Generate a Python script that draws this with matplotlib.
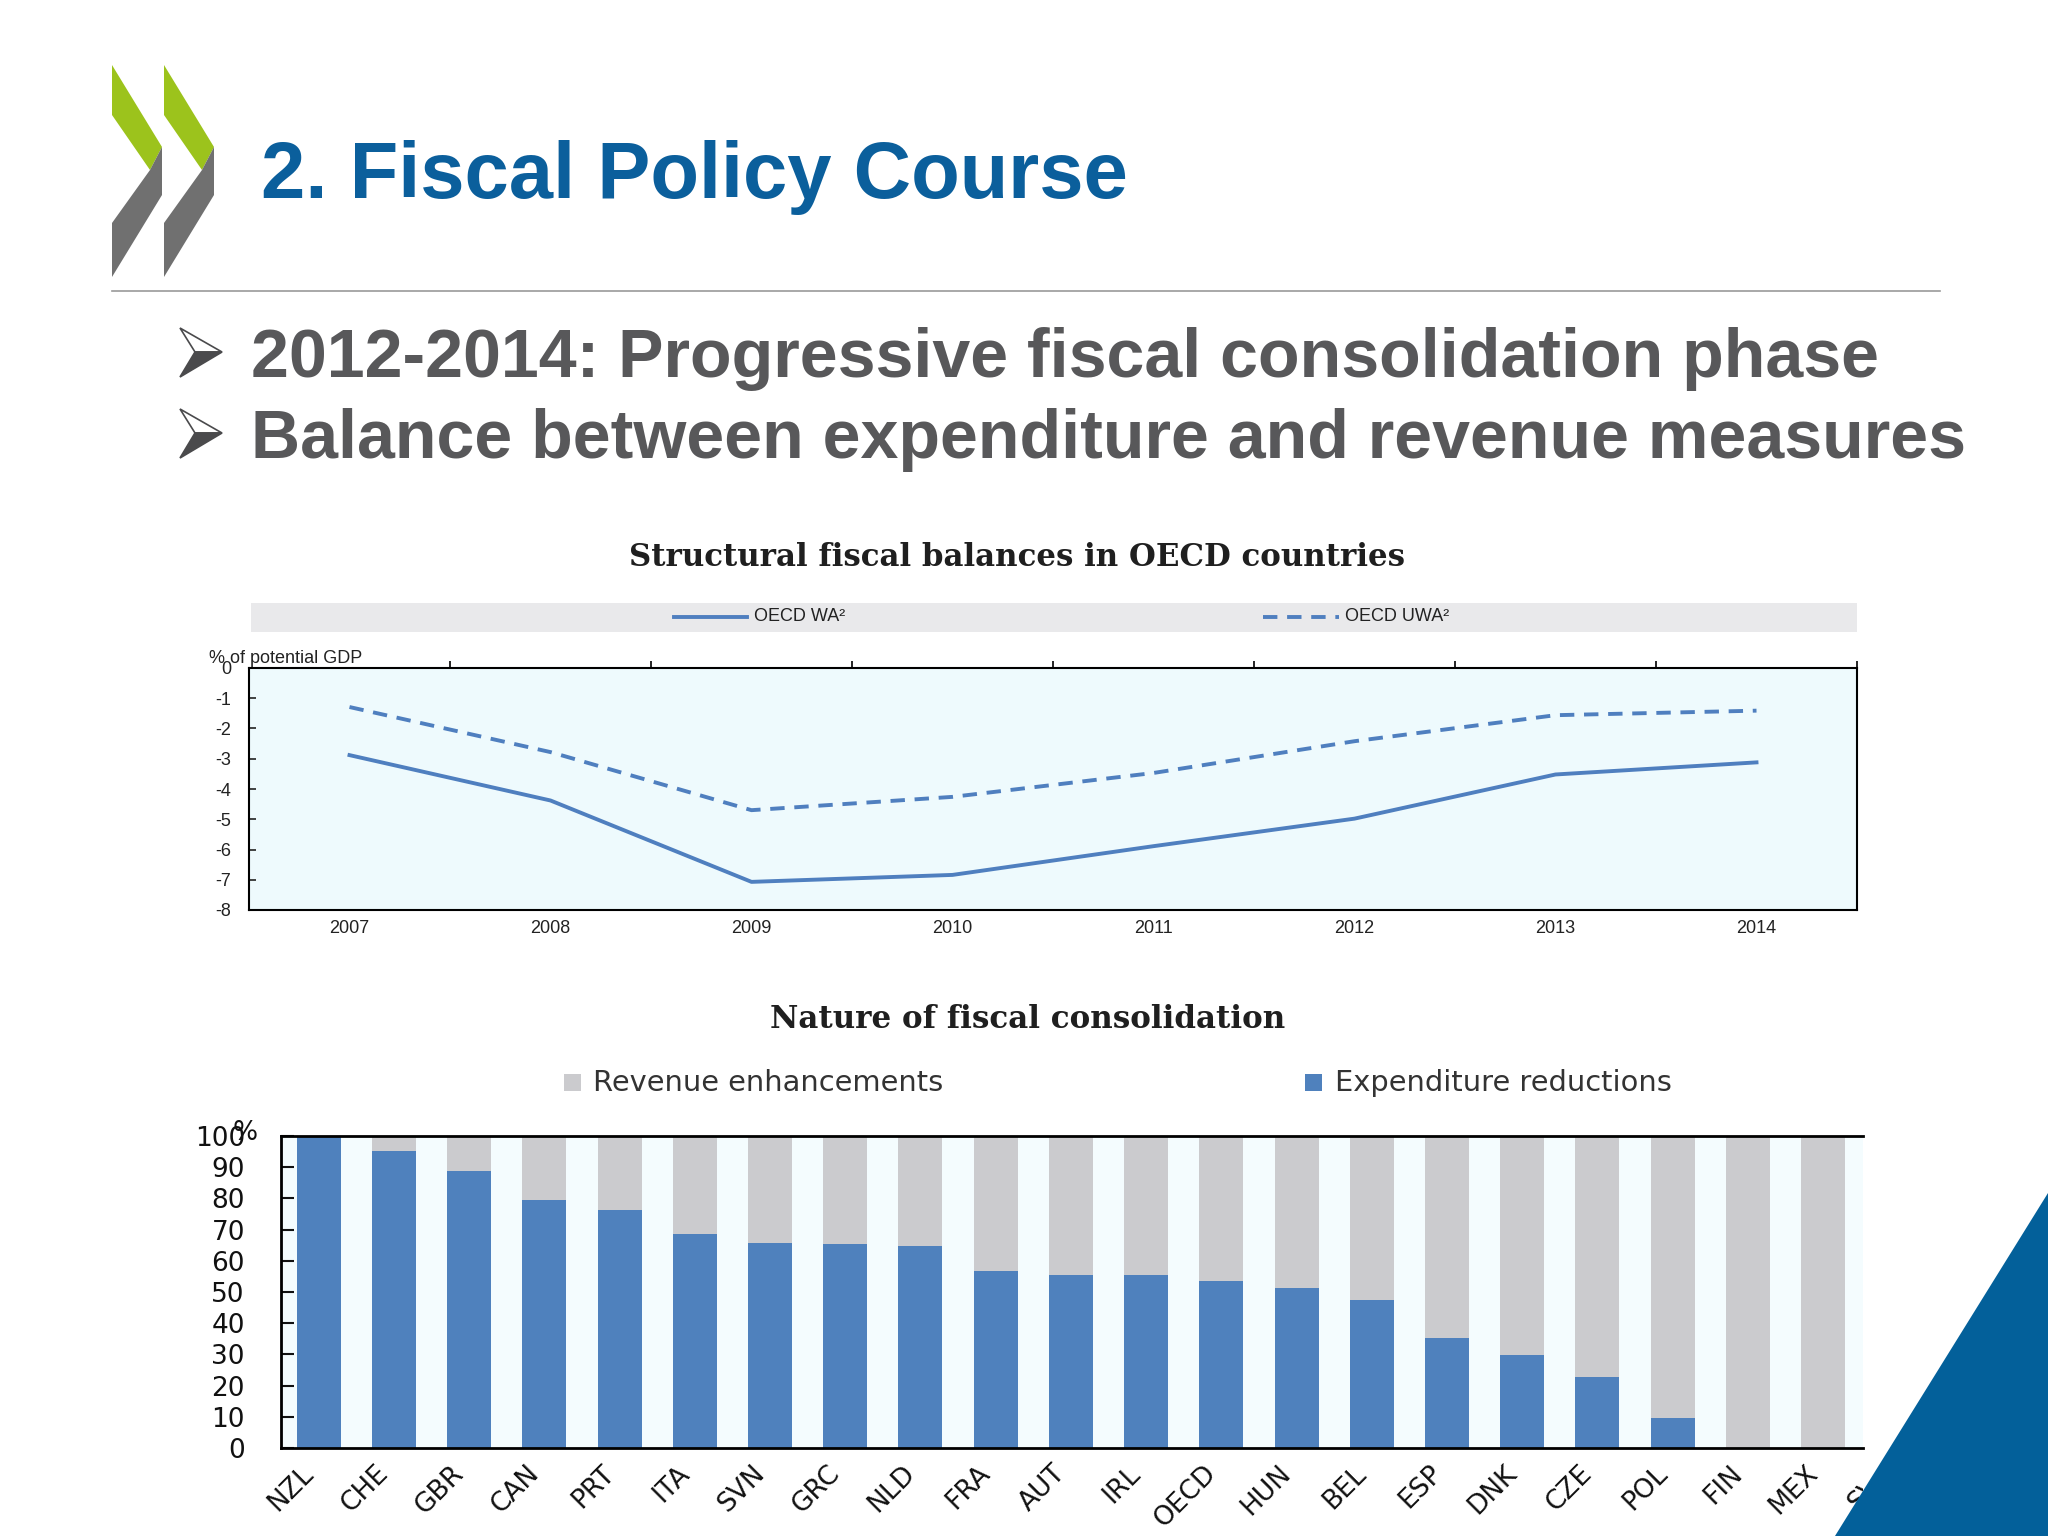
import numpy as np
import matplotlib
matplotlib.use("Agg")
import matplotlib.pyplot as plt
from matplotlib.patches import Polygon, Rectangle
from matplotlib.lines import Line2D
from matplotlib.ticker import FixedLocator
from matplotlib.transforms import offset_copy

plt.rcParams['axes.unicode_minus'] = False

# slide size in pixels
W, H = 2048, 1536

# line chart data
years = [2007, 2008, 2009, 2010, 2011, 2012, 2013, 2014]
oecd_wa = [-2.88, -4.38, -7.07, -6.84, -5.89, -4.98, -3.52, -3.12]
oecd_uwa = [-1.29, -2.78, -4.70, -4.26, -3.47, -2.42, -1.56, -1.41]

# bar chart data (shares, %)
countries = ['NZL', 'CHE', 'GBR', 'CAN', 'PRT', 'ITA', 'SVN', 'GRC', 'NLD', 'FRA', 'AUT',
             'IRL', 'OECD', 'HUN', 'BEL', 'ESP', 'DNK', 'CZE', 'POL', 'FIN', 'MEX']
expenditure = [100, 95.2, 88.8, 79.5, 76.3, 68.6, 65.8, 65.4, 64.7, 56.7, 55.3,
               55.3, 53.4, 51.4, 47.5, 35.4, 29.9, 22.8, 9.7, 0, 0]
revenue = [0, 4.8, 11.2, 20.5, 23.7, 31.4, 34.2, 34.6, 35.3, 43.3, 44.7,
           44.7, 46.6, 48.6, 52.5, 64.6, 70.1, 77.2, 90.3, 100, 100]
cut_label = 'SVK'  # next country, cut off at the edge of the picture

line_blue = '#4f7fbf'
bar_blue = '#4f81bd'
bar_grey = '#cbcbce'
narrow = ['Liberation Sans Narrow', 'Liberation Sans', 'DejaVu Sans']
small = 13


def fx(px):
    return px / W


def fy(py):
    return 1 - py / H


fig = plt.figure(figsize=(W / 100, H / 100), dpi=100)
fig.patch.set_facecolor('white')

# logo chevrons
for dx in (0, 52):
    g = [(112, 65), (162, 147), (150, 170), (112, 115)]
    k = [(162, 147), (162, 195), (112, 277), (112, 223), (150, 170)]
    fig.patches.append(Polygon([(fx(x + dx), fy(y)) for x, y in g], closed=True,
                               transform=fig.transFigure, facecolor='#9cc31c', edgecolor='none'))
    fig.patches.append(Polygon([(fx(x + dx), fy(y)) for x, y in k], closed=True,
                               transform=fig.transFigure, facecolor='#707070', edgecolor='none'))

fig.text(fx(261), fy(198), '2. Fiscal Policy Course', fontsize=57.3, fontweight='bold',
         color='#0b5f9c', family='Liberation Sans', va='baseline')
fig.add_artist(Line2D([fx(112), fx(1940)], [fy(291), fy(291)], color='#9a9a9a', lw=1.2))

# bullets
bullets = ['2012-2014: Progressive fiscal consolidation phase',
           'Balance between expenditure and revenue measures']
for i, b in enumerate(bullets):
    dy = 81 * i
    up = [(180, 328 + dy), (222, 352 + dy), (195, 352 + dy)]
    lo = [(195, 352 + dy), (222, 352 + dy), (180, 377 + dy)]
    fig.patches.append(Polygon([(fx(x), fy(y)) for x, y in up], closed=True, transform=fig.transFigure,
                               facecolor='white', edgecolor='#4a4a4c', lw=1.2))
    fig.patches.append(Polygon([(fx(x), fy(y)) for x, y in lo], closed=True, transform=fig.transFigure,
                               facecolor='#4a4a4c', edgecolor='#4a4a4c', lw=1.2))
    fig.text(fx(251), fy(377 + dy), b, fontsize=49.1, fontweight='bold', color='#58585a',
             family='Liberation Sans', va='baseline')

# ---- line chart ----
fig.text(fx(1017), fy(558), 'Structural fiscal balances in OECD countries', ha='center', va='center',
         family='DejaVu Serif', fontweight='bold', fontsize=22.2, color='#1f1f1f')
fig.patches.append(Rectangle((fx(251), fy(632)), fx(1857) - fx(251), (632 - 603) / H,
                             transform=fig.transFigure, facecolor='#e9e9eb', edgecolor='none'))
fig.add_artist(Line2D([fx(674), fx(747)], [fy(617), fy(617)], color=line_blue, lw=2.8))
fig.text(fx(754), fy(617), 'OECD WA²', family=narrow, fontsize=small, va='center', color='#222222')
fig.add_artist(Line2D([fx(1263), fx(1339)], [fy(617), fy(617)], color=line_blue, lw=2.8,
                      dashes=(3.7, 2.5)))
fig.text(fx(1345), fy(617), 'OECD UWA²', family=narrow, fontsize=small, va='center', color='#222222')

ax1 = fig.add_axes([fx(249), fy(910), (1857 - 249) / W, (910 - 668) / H])
ax1.set_facecolor('#eefafd')
ax1.plot(years, oecd_wa, color=line_blue, lw=2.8)
ax1.plot(years, oecd_uwa, color=line_blue, lw=2.8, dashes=(3.7, 2.5))
ax1.set_xlim(2006.5, 2014.5)
ax1.set_ylim(-8, 0)
ax1.set_xticks(years)
ax1.set_xticklabels([str(y) for y in years], family=narrow)
ax1.xaxis.set_minor_locator(FixedLocator(np.arange(2007.5, 2014.6, 1)))
ax1.tick_params(axis='x', which='major', length=0, pad=7, labelsize=small, colors='#222222')
ax1.tick_params(axis='x', which='minor', bottom=False, top=True, direction='out', length=5, width=1.2)
ax1.set_yticks(range(-8, 1))
ax1.set_yticklabels([str(v) for v in range(-8, 1)], family=narrow)
ax1.tick_params(axis='y', direction='in', length=5, width=1.2, pad=13, labelsize=small, colors='#222222')
for s in ax1.spines.values():
    s.set_linewidth(1.5)
fig.text(fx(209), fy(663), '% of potential GDP', family=narrow, fontsize=small, va='baseline',
         color='#222222')

# ---- bar chart ----
fig.text(fx(1028), fy(1019), 'Nature of fiscal consolidation', ha='center', va='center',
         family='DejaVu Serif', fontweight='bold', fontsize=22.3, color='#1f1f1f')
fig.patches.append(Rectangle((fx(564), fy(1091)), 17 / W, 17 / H, transform=fig.transFigure,
                             facecolor=bar_grey, edgecolor='none'))
fig.text(fx(593), fy(1083), 'Revenue enhancements', fontsize=20.8, va='center', color='#333333')
fig.patches.append(Rectangle((fx(1305), fy(1091)), 17 / W, 17 / H, transform=fig.transFigure,
                             facecolor=bar_blue, edgecolor='none'))
fig.text(fx(1335), fy(1083), 'Expenditure reductions', fontsize=20.8, va='center', color='#333333')

ax2 = fig.add_axes([fx(281), fy(1448), (1863 - 281) / W, (1448 - 1136) / H])
ax2.set_facecolor('#f4fcfe')
x = np.arange(len(countries))
ax2.bar(x, expenditure, width=0.585, color=bar_blue)
ax2.bar(x, revenue, bottom=expenditure, width=0.585, color=bar_grey)
ax2.set_xlim(-0.5, 20.53)
ax2.set_ylim(0, 100)
ax2.spines['right'].set_visible(False)
for s in ('left', 'top', 'bottom'):
    ax2.spines[s].set_linewidth(2)
ax2.set_xticks(x)
ax2.set_xticklabels(countries, rotation=45, ha='right')
ax2.tick_params(axis='x', length=0, pad=9, labelsize=19, colors='#111111')
ax2.set_yticks(range(0, 101, 10))
ax2.tick_params(axis='y', direction='in', length=9, width=1.5, pad=26, labelsize=19, colors='#111111')
fig.text(fx(232), fy(1140), '%', fontsize=19, va='baseline', color='#111111')

trans = offset_copy(ax2.get_xaxis_transform(), fig=fig, y=-9, units='points')
t = ax2.text(len(countries), 0, cut_label, transform=trans, rotation=45, ha='right', va='top',
             fontsize=19, color='#111111')
t.set_clip_on(True)
t.set_clip_path(Rectangle((0, 0), fx(1863), 1, transform=fig.transFigure))

# corner triangle
tri = Polygon([(1.0, fy(1193)), (1.0, 0.0), (fx(1835), 0.0)], closed=True, transform=fig.transFigure,
              facecolor='#03609a', edgecolor='none', zorder=5)
fig.patches.append(tri)

fig.savefig('out.png', dpi=100)
